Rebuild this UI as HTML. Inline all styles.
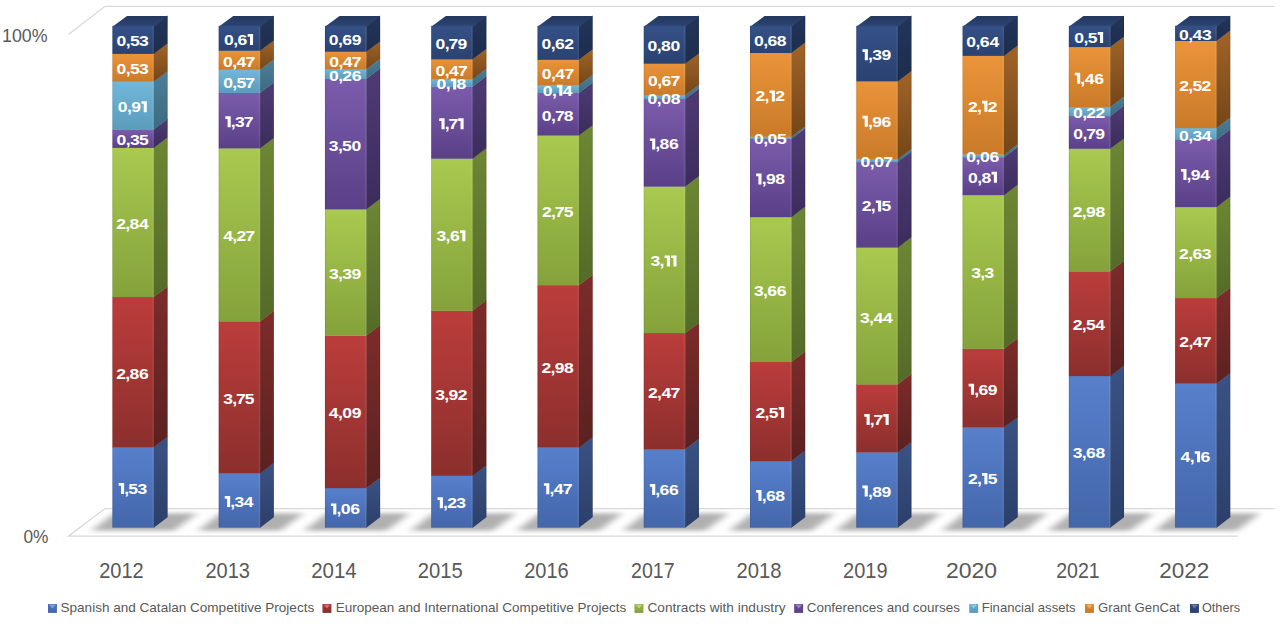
<!DOCTYPE html><html><head><meta charset="utf-8"><title>chart</title>
<style>html,body{margin:0;padding:0;background:#fff;}body{width:1282px;height:624px;overflow:hidden;}svg{display:block;font-family:"Liberation Sans",sans-serif;}</style></head><body>
<svg width="1282" height="624" viewBox="0 0 1282 624">
<defs>
<linearGradient id="f0" x1="0" y1="0" x2="0" y2="1"><stop offset="0" stop-color="#5780cc"/><stop offset="1" stop-color="#4466aa"/></linearGradient>
<linearGradient id="s0" x1="0" y1="0" x2="0" y2="1"><stop offset="0" stop-color="#3a5284"/><stop offset="1" stop-color="#2c3f6b"/></linearGradient>
<linearGradient id="f1" x1="0" y1="0" x2="0" y2="1"><stop offset="0" stop-color="#bb3d3b"/><stop offset="1" stop-color="#8b2f2d"/></linearGradient>
<linearGradient id="s1" x1="0" y1="0" x2="0" y2="1"><stop offset="0" stop-color="#7d2c2a"/><stop offset="1" stop-color="#5a2120"/></linearGradient>
<linearGradient id="f2" x1="0" y1="0" x2="0" y2="1"><stop offset="0" stop-color="#a9c950"/><stop offset="1" stop-color="#84a23a"/></linearGradient>
<linearGradient id="s2" x1="0" y1="0" x2="0" y2="1"><stop offset="0" stop-color="#6d8734"/><stop offset="1" stop-color="#546a28"/></linearGradient>
<linearGradient id="f3" x1="0" y1="0" x2="0" y2="1"><stop offset="0" stop-color="#7b5cac"/><stop offset="1" stop-color="#5a4087"/></linearGradient>
<linearGradient id="s3" x1="0" y1="0" x2="0" y2="1"><stop offset="0" stop-color="#4e3b74"/><stop offset="1" stop-color="#3c2c5c"/></linearGradient>
<linearGradient id="f4" x1="0" y1="0" x2="0" y2="1"><stop offset="0" stop-color="#72b7da"/><stop offset="1" stop-color="#5a9cbc"/></linearGradient>
<linearGradient id="s4" x1="0" y1="0" x2="0" y2="1"><stop offset="0" stop-color="#4c8099"/><stop offset="1" stop-color="#3d6a80"/></linearGradient>
<linearGradient id="f5" x1="0" y1="0" x2="0" y2="1"><stop offset="0" stop-color="#ea943a"/><stop offset="1" stop-color="#ca7a28"/></linearGradient>
<linearGradient id="s5" x1="0" y1="0" x2="0" y2="1"><stop offset="0" stop-color="#a06428"/><stop offset="1" stop-color="#744618"/></linearGradient>
<linearGradient id="f6" x1="0" y1="0" x2="0" y2="1"><stop offset="0" stop-color="#355188"/><stop offset="1" stop-color="#2a4270"/></linearGradient>
<linearGradient id="s6" x1="0" y1="0" x2="0" y2="1"><stop offset="0" stop-color="#22355a"/><stop offset="1" stop-color="#1d2d4d"/></linearGradient>
<filter id="bl" x="-50%" y="-100%" width="200%" height="300%"><feGaussianBlur stdDeviation="4.5 2.2"/></filter>
<linearGradient id="tp" x1="0" y1="0" x2="0" y2="1"><stop offset="0" stop-color="#24395f"/><stop offset="0.8" stop-color="#2a4270"/><stop offset="1" stop-color="#32507f"/></linearGradient>
</defs>
<rect width="1282" height="624" fill="#fff"/>
<g fill="none" stroke="#d9d9d9" stroke-width="1.3">
<path d="M68.5 34.5 L105 6.3 L1274.5 6.3"/>
<path d="M1274.5 508.6 L105 508.6 L68.5 536.2 L1238 536.2"/>
</g>
<g filter="url(#bl)" fill="#000" fill-opacity="0.31">
<polygon points="91.4,530.8 174.2,530.8 197.1,513.2 114.3,513.2"/>
<polygon points="197.7,530.8 280.5,530.8 303.4,513.2 220.6,513.2"/>
<polygon points="303.9,530.8 386.7,530.8 409.6,513.2 326.8,513.2"/>
<polygon points="410.2,530.8 493.0,530.8 515.9,513.2 433.1,513.2"/>
<polygon points="516.5,530.8 599.3,530.8 622.2,513.2 539.4,513.2"/>
<polygon points="622.8,530.8 705.5,530.8 728.4,513.2 645.6,513.2"/>
<polygon points="729.0,530.8 811.8,530.8 834.7,513.2 751.9,513.2"/>
<polygon points="835.3,530.8 918.1,530.8 941.0,513.2 858.2,513.2"/>
<polygon points="941.6,530.8 1024.4,530.8 1047.2,513.2 964.4,513.2"/>
<polygon points="1047.8,530.8 1130.6,530.8 1153.5,513.2 1070.7,513.2"/>
<polygon points="1154.1,530.8 1236.9,530.8 1259.8,513.2 1177.0,513.2"/>
</g>
<rect x="112.40" y="447.04" width="41.80" height="80.66" fill="url(#f0)"/>
<polygon points="153.80,447.04 167.60,436.64 167.60,517.30 153.80,527.70" fill="url(#s0)"/>
<rect x="112.40" y="296.82" width="41.80" height="150.52" fill="url(#f1)"/>
<polygon points="153.80,296.82 167.60,286.42 167.60,436.94 153.80,447.34" fill="url(#s1)"/>
<rect x="112.40" y="147.65" width="41.80" height="149.47" fill="url(#f2)"/>
<polygon points="153.80,147.65 167.60,137.25 167.60,286.72 153.80,297.12" fill="url(#s2)"/>
<rect x="112.40" y="129.27" width="41.80" height="18.68" fill="url(#f3)"/>
<polygon points="153.80,129.27 167.60,118.87 167.60,137.55 153.80,147.95" fill="url(#s3)"/>
<rect x="112.40" y="81.47" width="41.80" height="48.10" fill="url(#f4)"/>
<polygon points="153.80,81.47 167.60,71.07 167.60,119.17 153.80,129.57" fill="url(#s4)"/>
<rect x="112.40" y="53.64" width="41.80" height="28.14" fill="url(#f5)"/>
<polygon points="153.80,53.64 167.60,43.24 167.60,71.37 153.80,81.77" fill="url(#s5)"/>
<rect x="112.40" y="25.80" width="41.80" height="28.14" fill="url(#f6)"/>
<polygon points="153.80,25.80 167.60,15.40 167.60,43.54 153.80,53.94" fill="url(#s6)"/>
<rect x="152.30" y="26.80" width="1.6" height="500.60" fill="#fff" opacity="0.07"/>
<rect x="112.40" y="26.80" width="0.8" height="500.60" fill="#000" opacity="0.10"/>
<rect x="166.80" y="16.40" width="0.8" height="500.60" fill="#000" opacity="0.10"/>
<polygon points="112.40,26.80 154.20,26.80 167.60,16.00 127.00,16.00" fill="url(#tp)"/>
<g fill="#fff" font-weight="bold" font-size="15.4">
<text transform="scale(1.140,1)" y="494.0" x="108.96 112.60 120.67">,53</text>
<path d="M118.70 482.99 H124.10 V494.02 H121.00 V485.69 H118.70 Z"/>
<text transform="scale(1.140,1)" y="378.7" x="102.03 109.96 113.70 121.95">2,86</text>
<text transform="scale(1.140,1)" y="229.0" x="101.95 109.88 113.61 121.95">2,84</text>
<text transform="scale(1.140,1)" y="145.3" x="102.21 110.32 113.96 122.03">0,35</text>
<text transform="scale(1.140,1)" y="112.2" x="103.31 111.41 115.15">0,9</text>
<path d="M141.40 101.15 H146.80 V112.17 H143.70 V103.85 H141.40 Z"/>
<text transform="scale(1.140,1)" y="74.4" x="102.21 110.32 113.96 122.03">0,53</text>
<text transform="scale(1.140,1)" y="46.5" x="102.21 110.32 113.96 122.03">0,53</text>
</g>
<rect x="218.67" y="473.11" width="41.80" height="54.59" fill="url(#f0)"/>
<polygon points="260.07,473.11 273.87,462.71 273.87,517.30 260.07,527.70" fill="url(#s0)"/>
<rect x="218.67" y="321.17" width="41.80" height="152.24" fill="url(#f1)"/>
<polygon points="260.07,321.17 273.87,310.77 273.87,463.01 260.07,473.41" fill="url(#s1)"/>
<rect x="218.67" y="148.16" width="41.80" height="173.31" fill="url(#f2)"/>
<polygon points="260.07,148.16 273.87,137.76 273.87,311.07 260.07,321.47" fill="url(#s2)"/>
<rect x="218.67" y="92.65" width="41.80" height="55.81" fill="url(#f3)"/>
<polygon points="260.07,92.65 273.87,82.25 273.87,138.06 260.07,148.46" fill="url(#s3)"/>
<rect x="218.67" y="69.56" width="41.80" height="23.39" fill="url(#f4)"/>
<polygon points="260.07,69.56 273.87,59.16 273.87,82.55 260.07,92.95" fill="url(#s4)"/>
<rect x="218.67" y="50.52" width="41.80" height="19.34" fill="url(#f5)"/>
<polygon points="260.07,50.52 273.87,40.12 273.87,59.46 260.07,69.86" fill="url(#s5)"/>
<rect x="218.67" y="25.80" width="41.80" height="25.02" fill="url(#f6)"/>
<polygon points="260.07,25.80 273.87,15.40 273.87,40.42 260.07,50.82" fill="url(#s6)"/>
<rect x="258.57" y="26.80" width="1.6" height="500.60" fill="#fff" opacity="0.07"/>
<rect x="218.67" y="26.80" width="0.8" height="500.60" fill="#000" opacity="0.10"/>
<rect x="273.07" y="16.40" width="0.8" height="500.60" fill="#000" opacity="0.10"/>
<polygon points="218.67,26.80 260.47,26.80 273.87,16.00 233.27,16.00" fill="url(#tp)"/>
<g fill="#fff" font-weight="bold" font-size="15.4">
<text transform="scale(1.140,1)" y="507.1" x="202.00 205.65 213.89">,34</text>
<path d="M224.77 496.03 H230.17 V507.05 H227.07 V498.73 H224.77 Z"/>
<text transform="scale(1.140,1)" y="403.9" x="195.74 203.67 207.01 214.77">3,75</text>
<text transform="scale(1.140,1)" y="241.5" x="195.74 203.84 207.49 215.25">4,27</text>
<text transform="scale(1.140,1)" y="127.2" x="202.48 206.13 213.89">,37</text>
<path d="M225.32 116.18 H230.72 V127.21 H227.62 V118.88 H225.32 Z"/>
<text transform="scale(1.140,1)" y="87.9" x="195.74 203.84 207.49 215.25">0,57</text>
<text transform="scale(1.140,1)" y="66.8" x="195.56 203.67 207.49 215.43">0,47</text>
<text transform="scale(1.140,1)" y="45.0" x="196.53 204.63 208.37">0,6</text>
<path d="M247.67 33.93 H253.07 V44.96 H249.97 V36.63 H247.67 Z"/>
</g>
<rect x="324.94" y="487.90" width="41.80" height="39.80" fill="url(#f0)"/>
<polygon points="366.34,487.90 380.14,477.50 380.14,517.30 366.34,527.70" fill="url(#s0)"/>
<rect x="324.94" y="335.48" width="41.80" height="152.72" fill="url(#f1)"/>
<polygon points="366.34,335.48 380.14,325.08 380.14,477.80 366.34,488.20" fill="url(#s1)"/>
<rect x="324.94" y="209.15" width="41.80" height="126.63" fill="url(#f2)"/>
<polygon points="366.34,209.15 380.14,198.75 380.14,325.38 366.34,335.78" fill="url(#s2)"/>
<rect x="324.94" y="78.72" width="41.80" height="130.73" fill="url(#f3)"/>
<polygon points="366.34,78.72 380.14,68.32 380.14,199.05 366.34,209.45" fill="url(#s3)"/>
<rect x="324.94" y="69.03" width="41.80" height="9.99" fill="url(#f4)"/>
<polygon points="366.34,69.03 380.14,58.63 380.14,68.62 366.34,79.02" fill="url(#s4)"/>
<rect x="324.94" y="51.51" width="41.80" height="17.82" fill="url(#f5)"/>
<polygon points="366.34,51.51 380.14,41.11 380.14,58.93 366.34,69.33" fill="url(#s5)"/>
<rect x="324.94" y="25.80" width="41.80" height="26.01" fill="url(#f6)"/>
<polygon points="366.34,25.80 380.14,15.40 380.14,41.41 366.34,51.81" fill="url(#s6)"/>
<rect x="364.84" y="26.80" width="1.6" height="500.60" fill="#fff" opacity="0.07"/>
<rect x="324.94" y="26.80" width="0.8" height="500.60" fill="#000" opacity="0.10"/>
<rect x="379.34" y="16.40" width="0.8" height="500.60" fill="#000" opacity="0.10"/>
<polygon points="324.94,26.80 366.74,26.80 380.14,16.00 339.54,16.00" fill="url(#tp)"/>
<g fill="#fff" font-weight="bold" font-size="15.4">
<text transform="scale(1.140,1)" y="514.4" x="295.13 298.96 307.29">,06</text>
<path d="M330.94 503.42 H336.34 V514.45 H333.24 V506.12 H330.94 Z"/>
<text transform="scale(1.140,1)" y="418.5" x="288.39 296.49 300.32 308.65">4,09</text>
<text transform="scale(1.140,1)" y="279.1" x="288.56 296.49 300.14 308.30">3,39</text>
<text transform="scale(1.140,1)" y="150.7" x="288.47 296.40 300.05 308.30">3,50</text>
<text transform="scale(1.140,1)" y="80.7" x="288.56 296.67 300.32 308.47">0,26</text>
<text transform="scale(1.140,1)" y="67.1" x="288.78 296.89 300.71 308.65">0,47</text>
<text transform="scale(1.140,1)" y="45.5" x="288.47 296.58 300.32 308.56">0,69</text>
</g>
<rect x="431.21" y="475.60" width="41.80" height="52.10" fill="url(#f0)"/>
<polygon points="472.61,475.60 486.41,465.20 486.41,517.30 472.61,527.70" fill="url(#s0)"/>
<rect x="431.21" y="310.50" width="41.80" height="165.39" fill="url(#f1)"/>
<polygon points="472.61,310.50 486.41,300.10 486.41,465.50 472.61,475.90" fill="url(#s1)"/>
<rect x="431.21" y="158.46" width="41.80" height="152.34" fill="url(#f2)"/>
<polygon points="472.61,158.46 486.41,148.06 486.41,300.40 472.61,310.80" fill="url(#s2)"/>
<rect x="431.21" y="86.45" width="41.80" height="72.32" fill="url(#f3)"/>
<polygon points="472.61,86.45 486.41,76.05 486.41,148.36 472.61,158.76" fill="url(#s3)"/>
<rect x="431.21" y="78.87" width="41.80" height="7.88" fill="url(#f4)"/>
<polygon points="472.61,78.87 486.41,68.47 486.41,76.35 472.61,86.75" fill="url(#s4)"/>
<rect x="431.21" y="59.07" width="41.80" height="20.09" fill="url(#f5)"/>
<polygon points="472.61,59.07 486.41,48.67 486.41,68.77 472.61,79.17" fill="url(#s5)"/>
<rect x="431.21" y="25.80" width="41.80" height="33.57" fill="url(#f6)"/>
<polygon points="472.61,25.80 486.41,15.40 486.41,48.97 472.61,59.37" fill="url(#s6)"/>
<rect x="471.11" y="26.80" width="1.6" height="500.60" fill="#fff" opacity="0.07"/>
<rect x="431.21" y="26.80" width="0.8" height="500.60" fill="#000" opacity="0.10"/>
<rect x="485.61" y="16.40" width="0.8" height="500.60" fill="#000" opacity="0.10"/>
<polygon points="431.21,26.80 473.01,26.80 486.41,16.00 445.81,16.00" fill="url(#tp)"/>
<g fill="#fff" font-weight="bold" font-size="15.4">
<text transform="scale(1.140,1)" y="508.3" x="388.61 392.26 400.33">,23</text>
<path d="M437.51 497.27 H442.91 V508.30 H439.81 V499.97 H437.51 Z"/>
<text transform="scale(1.140,1)" y="399.9" x="381.78 389.71 393.45 401.60">3,92</text>
<text transform="scale(1.140,1)" y="241.3" x="382.96 390.89 394.63">3,6</text>
<path d="M460.01 230.26 H465.41 V241.28 H462.31 V232.96 H460.01 Z"/>
<text transform="scale(1.140,1)" y="129.3" x="390.11 393.45">,7</text>
<path d="M439.21 118.23 H444.61 V129.26 H441.51 V120.93 H439.21 Z"/>
<path d="M458.21 118.23 H463.61 V129.26 H460.51 V120.93 H458.21 Z"/>
<text transform="scale(1.140,1)" y="89.5" x="382.96 391.07 400.51">0,8</text>
<path d="M450.81 78.43 H456.21 V89.46 H453.11 V81.13 H450.81 Z"/>
<text transform="scale(1.140,1)" y="75.8" x="382.00 390.11 393.93 401.87">0,47</text>
<text transform="scale(1.140,1)" y="49.2" x="382.09 390.19 393.53 401.39">0,79</text>
</g>
<rect x="537.48" y="447.34" width="41.80" height="80.36" fill="url(#f0)"/>
<polygon points="578.88,447.34 592.68,436.94 592.68,517.30 578.88,527.70" fill="url(#s0)"/>
<rect x="537.48" y="285.04" width="41.80" height="162.60" fill="url(#f1)"/>
<polygon points="578.88,285.04 592.68,274.64 592.68,437.24 578.88,447.64" fill="url(#s1)"/>
<rect x="537.48" y="135.27" width="41.80" height="150.07" fill="url(#f2)"/>
<polygon points="578.88,135.27 592.68,124.87 592.68,274.94 578.88,285.34" fill="url(#s2)"/>
<rect x="537.48" y="92.79" width="41.80" height="42.78" fill="url(#f3)"/>
<polygon points="578.88,92.79 592.68,82.39 592.68,125.17 578.88,135.57" fill="url(#s3)"/>
<rect x="537.48" y="85.16" width="41.80" height="7.92" fill="url(#f4)"/>
<polygon points="578.88,85.16 592.68,74.76 592.68,82.69 578.88,93.09" fill="url(#s4)"/>
<rect x="537.48" y="59.57" width="41.80" height="25.90" fill="url(#f5)"/>
<polygon points="578.88,59.57 592.68,49.17 592.68,75.06 578.88,85.46" fill="url(#s5)"/>
<rect x="537.48" y="25.80" width="41.80" height="34.07" fill="url(#f6)"/>
<polygon points="578.88,25.80 592.68,15.40 592.68,49.47 578.88,59.87" fill="url(#s6)"/>
<rect x="577.38" y="26.80" width="1.6" height="500.60" fill="#fff" opacity="0.07"/>
<rect x="537.48" y="26.80" width="0.8" height="500.60" fill="#000" opacity="0.10"/>
<rect x="591.88" y="16.40" width="0.8" height="500.60" fill="#000" opacity="0.10"/>
<polygon points="537.48,26.80 579.28,26.80 592.68,16.00 552.08,16.00" fill="url(#tp)"/>
<g fill="#fff" font-weight="bold" font-size="15.4">
<text transform="scale(1.140,1)" y="494.2" x="481.96 485.79 493.73">,47</text>
<path d="M543.93 483.14 H549.33 V494.17 H546.23 V485.84 H543.93 Z"/>
<text transform="scale(1.140,1)" y="373.0" x="474.91 482.84 486.58 494.82">2,98</text>
<text transform="scale(1.140,1)" y="217.0" x="475.39 483.32 486.67 494.43">2,75</text>
<text transform="scale(1.140,1)" y="120.8" x="475.31 483.41 486.75 494.60">0,78</text>
<text transform="scale(1.140,1)" y="95.8" x="476.10 484.20 493.73">0,4</text>
<path d="M556.98 84.75 H562.38 V95.78 H559.28 V87.45 H556.98 Z"/>
<text transform="scale(1.140,1)" y="79.2" x="475.22 483.32 487.15 495.09">0,47</text>
<text transform="scale(1.140,1)" y="49.5" x="475.00 483.11 486.84 495.00">0,62</text>
</g>
<rect x="643.75" y="449.22" width="41.80" height="78.48" fill="url(#f0)"/>
<polygon points="685.15,449.22 698.95,438.82 698.95,517.30 685.15,527.70" fill="url(#s0)"/>
<rect x="643.75" y="332.88" width="41.80" height="116.63" fill="url(#f1)"/>
<polygon points="685.15,332.88 698.95,322.48 698.95,439.12 685.15,449.52" fill="url(#s1)"/>
<rect x="643.75" y="186.41" width="41.80" height="146.78" fill="url(#f2)"/>
<polygon points="685.15,186.41 698.95,176.01 698.95,322.78 685.15,333.18" fill="url(#s2)"/>
<rect x="643.75" y="98.80" width="41.80" height="87.90" fill="url(#f3)"/>
<polygon points="685.15,98.80 698.95,88.40 698.95,176.31 685.15,186.71" fill="url(#s3)"/>
<rect x="643.75" y="95.03" width="41.80" height="4.07" fill="url(#f4)"/>
<polygon points="685.15,95.03 698.95,84.63 698.95,88.70 685.15,99.10" fill="url(#s4)"/>
<rect x="643.75" y="63.48" width="41.80" height="31.86" fill="url(#f5)"/>
<polygon points="685.15,63.48 698.95,53.08 698.95,84.93 685.15,95.33" fill="url(#s5)"/>
<rect x="643.75" y="25.80" width="41.80" height="37.98" fill="url(#f6)"/>
<polygon points="685.15,25.80 698.95,15.40 698.95,53.38 685.15,63.78" fill="url(#s6)"/>
<rect x="683.65" y="26.80" width="1.6" height="500.60" fill="#fff" opacity="0.07"/>
<rect x="643.75" y="26.80" width="0.8" height="500.60" fill="#000" opacity="0.10"/>
<rect x="698.15" y="16.40" width="0.8" height="500.60" fill="#000" opacity="0.10"/>
<polygon points="643.75,26.80 685.55,26.80 698.95,16.00 658.35,16.00" fill="url(#tp)"/>
<g fill="#fff" font-weight="bold" font-size="15.4">
<text transform="scale(1.140,1)" y="495.1" x="574.88 578.61 586.86">,66</text>
<path d="M649.85 484.08 H655.25 V495.11 H652.15 V486.78 H649.85 Z"/>
<text transform="scale(1.140,1)" y="397.8" x="568.44 576.37 580.19 588.13">2,47</text>
<text transform="scale(1.140,1)" y="266.4" x="570.67 578.61">3,</text>
<path d="M664.60 255.42 H670.00 V266.44 H666.90 V258.12 H664.60 Z"/>
<path d="M671.10 255.42 H676.50 V266.44 H673.40 V258.12 H671.10 Z"/>
<text transform="scale(1.140,1)" y="149.4" x="574.88 578.61 586.86">,86</text>
<path d="M649.85 138.38 H655.25 V149.40 H652.15 V141.08 H649.85 Z"/>
<text transform="scale(1.140,1)" y="103.7" x="568.04 576.15 579.97 588.31">0,08</text>
<text transform="scale(1.140,1)" y="86.1" x="568.53 576.63 580.37 588.22">0,67</text>
<text transform="scale(1.140,1)" y="51.4" x="568.04 576.15 579.89 588.22">0,80</text>
</g>
<rect x="750.02" y="460.94" width="41.80" height="66.76" fill="url(#f0)"/>
<polygon points="791.42,460.94 805.22,450.54 805.22,517.30 791.42,527.70" fill="url(#s0)"/>
<rect x="750.02" y="361.65" width="41.80" height="99.59" fill="url(#f1)"/>
<polygon points="791.42,361.65 805.22,351.25 805.22,450.84 791.42,461.24" fill="url(#s1)"/>
<rect x="750.02" y="216.87" width="41.80" height="145.08" fill="url(#f2)"/>
<polygon points="791.42,216.87 805.22,206.47 805.22,351.55 791.42,361.95" fill="url(#s2)"/>
<rect x="750.02" y="138.54" width="41.80" height="78.63" fill="url(#f3)"/>
<polygon points="791.42,138.54 805.22,128.14 805.22,206.77 791.42,217.17" fill="url(#s3)"/>
<rect x="750.02" y="136.56" width="41.80" height="2.28" fill="url(#f4)"/>
<polygon points="791.42,136.56 805.22,126.16 805.22,128.44 791.42,138.84" fill="url(#s4)"/>
<rect x="750.02" y="52.70" width="41.80" height="84.16" fill="url(#f5)"/>
<polygon points="791.42,52.70 805.22,42.30 805.22,126.46 791.42,136.86" fill="url(#s5)"/>
<rect x="750.02" y="25.80" width="41.80" height="27.20" fill="url(#f6)"/>
<polygon points="791.42,25.80 805.22,15.40 805.22,42.60 791.42,53.00" fill="url(#s6)"/>
<rect x="789.92" y="26.80" width="1.6" height="500.60" fill="#fff" opacity="0.07"/>
<rect x="750.02" y="26.80" width="0.8" height="500.60" fill="#000" opacity="0.10"/>
<rect x="804.42" y="16.40" width="0.8" height="500.60" fill="#000" opacity="0.10"/>
<polygon points="750.02,26.80 791.82,26.80 805.22,16.00 764.62,16.00" fill="url(#tp)"/>
<g fill="#fff" font-weight="bold" font-size="15.4">
<text transform="scale(1.140,1)" y="501.0" x="668.10 671.83 680.08">,68</text>
<path d="M756.12 489.94 H761.52 V500.97 H758.42 V492.64 H756.12 Z"/>
<text transform="scale(1.140,1)" y="418.1" x="662.71 670.64 674.29">2,5</text>
<path d="M778.72 407.07 H784.12 V418.10 H781.02 V409.77 H778.72 Z"/>
<text transform="scale(1.140,1)" y="296.1" x="661.35 669.28 673.02 681.26">3,66</text>
<text transform="scale(1.140,1)" y="184.5" x="668.10 671.83 680.08">,98</text>
<path d="M756.12 173.48 H761.52 V184.50 H758.42 V176.18 H756.12 Z"/>
<text transform="scale(1.140,1)" y="144.4" x="661.35 669.46 673.28 681.53">0,05</text>
<text transform="scale(1.140,1)" y="101.4" x="662.71 670.64 679.99">2,2</text>
<path d="M769.52 90.41 H774.92 V101.43 H771.82 V93.11 H769.52 Z"/>
<text transform="scale(1.140,1)" y="46.0" x="661.35 669.46 673.19 681.44">0,68</text>
</g>
<rect x="856.29" y="452.22" width="41.80" height="75.48" fill="url(#f0)"/>
<polygon points="897.69,452.22 911.49,441.82 911.49,517.30 897.69,527.70" fill="url(#s0)"/>
<rect x="856.29" y="384.20" width="41.80" height="68.32" fill="url(#f1)"/>
<polygon points="897.69,384.20 911.49,373.80 911.49,442.12 897.69,452.52" fill="url(#s1)"/>
<rect x="856.29" y="247.36" width="41.80" height="137.14" fill="url(#f2)"/>
<polygon points="897.69,247.36 911.49,236.96 911.49,374.10 897.69,384.50" fill="url(#s2)"/>
<rect x="856.29" y="161.84" width="41.80" height="85.82" fill="url(#f3)"/>
<polygon points="897.69,161.84 911.49,151.44 911.49,237.26 897.69,247.66" fill="url(#s3)"/>
<rect x="856.29" y="159.06" width="41.80" height="3.08" fill="url(#f4)"/>
<polygon points="897.69,159.06 911.49,148.66 911.49,151.74 897.69,162.14" fill="url(#s4)"/>
<rect x="856.29" y="81.09" width="41.80" height="78.26" fill="url(#f5)"/>
<polygon points="897.69,81.09 911.49,70.69 911.49,148.96 897.69,159.36" fill="url(#s5)"/>
<rect x="856.29" y="25.80" width="41.80" height="55.59" fill="url(#f6)"/>
<polygon points="897.69,25.80 911.49,15.40 911.49,70.99 897.69,81.39" fill="url(#s6)"/>
<rect x="896.19" y="26.80" width="1.6" height="500.60" fill="#fff" opacity="0.07"/>
<rect x="856.29" y="26.80" width="0.8" height="500.60" fill="#000" opacity="0.10"/>
<rect x="910.69" y="16.40" width="0.8" height="500.60" fill="#000" opacity="0.10"/>
<polygon points="856.29,26.80 898.09,26.80 911.49,16.00 870.89,16.00" fill="url(#tp)"/>
<g fill="#fff" font-weight="bold" font-size="15.4">
<text transform="scale(1.140,1)" y="496.6" x="761.32 765.05 773.30">,89</text>
<path d="M862.39 485.58 H867.79 V496.61 H864.69 V488.28 H862.39 Z"/>
<text transform="scale(1.140,1)" y="425.0" x="762.98 766.32">,7</text>
<path d="M864.29 413.98 H869.69 V425.01 H866.59 V416.68 H864.29 Z"/>
<path d="M883.29 413.98 H888.69 V425.01 H885.59 V416.68 H883.29 Z"/>
<text transform="scale(1.140,1)" y="322.6" x="754.39 762.32 766.15 774.57">3,44</text>
<text transform="scale(1.140,1)" y="211.4" x="755.93 763.86 773.21">2,5</text>
<path d="M875.79 200.38 H881.19 V211.40 H878.09 V203.08 H875.79 Z"/>
<text transform="scale(1.140,1)" y="167.2" x="754.88 762.98 766.81 774.75">0,07</text>
<text transform="scale(1.140,1)" y="126.9" x="761.32 765.05 773.30">,96</text>
<path d="M862.39 115.85 H867.79 V126.87 H864.69 V118.55 H862.39 Z"/>
<text transform="scale(1.140,1)" y="60.2" x="761.40 765.05 773.21">,39</text>
<path d="M862.49 49.22 H867.89 V60.25 H864.79 V51.92 H862.49 Z"/>
</g>
<rect x="962.56" y="427.27" width="41.80" height="100.43" fill="url(#f0)"/>
<polygon points="1003.96,427.27 1017.76,416.87 1017.76,517.30 1003.96,527.70" fill="url(#s0)"/>
<rect x="962.56" y="348.56" width="41.80" height="79.01" fill="url(#f1)"/>
<polygon points="1003.96,348.56 1017.76,338.16 1017.76,417.17 1003.96,427.57" fill="url(#s1)"/>
<rect x="962.56" y="194.86" width="41.80" height="153.99" fill="url(#f2)"/>
<polygon points="1003.96,194.86 1017.76,184.46 1017.76,338.46 1003.96,348.86" fill="url(#s2)"/>
<rect x="962.56" y="157.14" width="41.80" height="38.02" fill="url(#f3)"/>
<polygon points="1003.96,157.14 1017.76,146.74 1017.76,184.76 1003.96,195.16" fill="url(#s3)"/>
<rect x="962.56" y="154.34" width="41.80" height="3.09" fill="url(#f4)"/>
<polygon points="1003.96,154.34 1017.76,143.94 1017.76,147.04 1003.96,157.44" fill="url(#s4)"/>
<rect x="962.56" y="55.61" width="41.80" height="99.04" fill="url(#f5)"/>
<polygon points="1003.96,55.61 1017.76,45.21 1017.76,144.24 1003.96,154.64" fill="url(#s5)"/>
<rect x="962.56" y="25.80" width="41.80" height="30.11" fill="url(#f6)"/>
<polygon points="1003.96,25.80 1017.76,15.40 1017.76,45.51 1003.96,55.91" fill="url(#s6)"/>
<rect x="1002.46" y="26.80" width="1.6" height="500.60" fill="#fff" opacity="0.07"/>
<rect x="962.56" y="26.80" width="0.8" height="500.60" fill="#000" opacity="0.10"/>
<rect x="1016.96" y="16.40" width="0.8" height="500.60" fill="#000" opacity="0.10"/>
<polygon points="962.56,26.80 1004.36,26.80 1017.76,16.00 977.16,16.00" fill="url(#tp)"/>
<g fill="#fff" font-weight="bold" font-size="15.4">
<text transform="scale(1.140,1)" y="484.1" x="849.15 857.08 866.43">2,5</text>
<path d="M982.06 473.11 H987.46 V484.13 H984.36 V475.81 H982.06 Z"/>
<text transform="scale(1.140,1)" y="394.7" x="854.53 858.27 866.52">,69</text>
<path d="M968.66 383.69 H974.06 V394.71 H970.96 V386.39 H968.66 Z"/>
<text transform="scale(1.140,1)" y="278.5" x="852.00 859.93 863.58">3,3</text>
<text transform="scale(1.140,1)" y="182.8" x="849.06 857.17 860.90">0,8</text>
<path d="M991.56 171.77 H996.96 V182.80 H993.86 V174.47 H991.56 Z"/>
<text transform="scale(1.140,1)" y="162.5" x="847.70 855.81 859.63 867.96">0,06</text>
<text transform="scale(1.140,1)" y="111.8" x="849.15 857.08 866.43">2,2</text>
<path d="M982.06 100.75 H987.46 V111.78 H984.36 V103.45 H982.06 Z"/>
<text transform="scale(1.140,1)" y="47.5" x="847.70 855.81 859.54 867.88">0,64</text>
</g>
<rect x="1068.83" y="375.85" width="41.80" height="151.85" fill="url(#f0)"/>
<polygon points="1110.23,375.85 1124.03,365.45 1124.03,517.30 1110.23,527.70" fill="url(#s0)"/>
<rect x="1068.83" y="271.25" width="41.80" height="104.90" fill="url(#f1)"/>
<polygon points="1110.23,271.25 1124.03,260.85 1124.03,365.75 1110.23,376.15" fill="url(#s1)"/>
<rect x="1068.83" y="148.52" width="41.80" height="123.02" fill="url(#f2)"/>
<polygon points="1110.23,148.52 1124.03,138.12 1124.03,261.15 1110.23,271.55" fill="url(#s2)"/>
<rect x="1068.83" y="115.99" width="41.80" height="32.83" fill="url(#f3)"/>
<polygon points="1110.23,115.99 1124.03,105.59 1124.03,138.42 1110.23,148.82" fill="url(#s3)"/>
<rect x="1068.83" y="106.93" width="41.80" height="9.36" fill="url(#f4)"/>
<polygon points="1110.23,106.93 1124.03,96.53 1124.03,105.89 1110.23,116.29" fill="url(#s4)"/>
<rect x="1068.83" y="46.80" width="41.80" height="60.43" fill="url(#f5)"/>
<polygon points="1110.23,46.80 1124.03,36.40 1124.03,96.83 1110.23,107.23" fill="url(#s5)"/>
<rect x="1068.83" y="25.80" width="41.80" height="21.30" fill="url(#f6)"/>
<polygon points="1110.23,25.80 1124.03,15.40 1124.03,36.70 1110.23,47.10" fill="url(#s6)"/>
<rect x="1108.73" y="26.80" width="1.6" height="500.60" fill="#fff" opacity="0.07"/>
<rect x="1068.83" y="26.80" width="0.8" height="500.60" fill="#000" opacity="0.10"/>
<rect x="1123.23" y="16.40" width="0.8" height="500.60" fill="#000" opacity="0.10"/>
<polygon points="1068.83,26.80 1110.63,26.80 1124.03,16.00 1083.43,16.00" fill="url(#tp)"/>
<g fill="#fff" font-weight="bold" font-size="15.4">
<text transform="scale(1.140,1)" y="458.4" x="941.01 948.94 952.67 960.92">3,68</text>
<text transform="scale(1.140,1)" y="330.3" x="941.01 948.94 952.59 960.83">2,54</text>
<text transform="scale(1.140,1)" y="216.7" x="941.01 948.94 952.67 960.92">2,98</text>
<text transform="scale(1.140,1)" y="139.1" x="941.40 949.51 952.85 960.70">0,79</text>
<text transform="scale(1.140,1)" y="118.3" x="941.18 949.29 952.94 961.01">0,22</text>
<text transform="scale(1.140,1)" y="83.7" x="947.67 951.49 959.82">,46</text>
<path d="M1074.83 72.64 H1080.23 V83.67 H1077.13 V75.34 H1074.83 Z"/>
<text transform="scale(1.140,1)" y="43.1" x="942.37 950.47 954.12">0,5</text>
<path d="M1097.73 32.08 H1103.13 V43.10 H1100.03 V34.78 H1097.73 Z"/>
</g>
<rect x="1175.10" y="383.39" width="41.80" height="144.31" fill="url(#f0)"/>
<polygon points="1216.50,383.39 1230.30,372.99 1230.30,517.30 1216.50,527.70" fill="url(#s0)"/>
<rect x="1175.10" y="297.89" width="41.80" height="85.80" fill="url(#f1)"/>
<polygon points="1216.50,297.89 1230.30,287.49 1230.30,373.29 1216.50,383.69" fill="url(#s1)"/>
<rect x="1175.10" y="206.85" width="41.80" height="91.34" fill="url(#f2)"/>
<polygon points="1216.50,206.85 1230.30,196.45 1230.30,287.79 1216.50,298.19" fill="url(#s2)"/>
<rect x="1175.10" y="139.69" width="41.80" height="67.46" fill="url(#f3)"/>
<polygon points="1216.50,139.69 1230.30,129.29 1230.30,196.75 1216.50,207.15" fill="url(#s3)"/>
<rect x="1175.10" y="127.92" width="41.80" height="12.07" fill="url(#f4)"/>
<polygon points="1216.50,127.92 1230.30,117.52 1230.30,129.59 1216.50,139.99" fill="url(#s4)"/>
<rect x="1175.10" y="40.69" width="41.80" height="87.53" fill="url(#f5)"/>
<polygon points="1216.50,40.69 1230.30,30.29 1230.30,117.82 1216.50,128.22" fill="url(#s5)"/>
<rect x="1175.10" y="25.80" width="41.80" height="15.19" fill="url(#f6)"/>
<polygon points="1216.50,25.80 1230.30,15.40 1230.30,30.59 1216.50,40.99" fill="url(#s6)"/>
<rect x="1215.00" y="26.80" width="1.6" height="500.60" fill="#fff" opacity="0.07"/>
<rect x="1175.10" y="26.80" width="0.8" height="500.60" fill="#000" opacity="0.10"/>
<rect x="1229.50" y="16.40" width="0.8" height="500.60" fill="#000" opacity="0.10"/>
<polygon points="1175.10,26.80 1216.90,26.80 1230.30,16.00 1189.70,16.00" fill="url(#tp)"/>
<g fill="#fff" font-weight="bold" font-size="15.4">
<text transform="scale(1.140,1)" y="462.2" x="1035.50 1043.61 1053.04">4,6</text>
<path d="M1194.70 451.17 H1200.10 V462.20 H1197.00 V453.87 H1194.70 Z"/>
<text transform="scale(1.140,1)" y="347.4" x="1034.53 1042.46 1046.29 1054.23">2,47</text>
<text transform="scale(1.140,1)" y="259.2" x="1034.32 1042.25 1045.98 1054.14">2,63</text>
<text transform="scale(1.140,1)" y="180.1" x="1040.89 1044.62 1052.96">,94</text>
<path d="M1181.10 169.04 H1186.50 V180.07 H1183.40 V171.74 H1181.10 Z"/>
<text transform="scale(1.140,1)" y="140.6" x="1034.23 1042.33 1045.98 1054.23">0,34</text>
<text transform="scale(1.140,1)" y="91.1" x="1034.40 1042.33 1045.98 1054.05">2,52</text>
<text transform="scale(1.140,1)" y="40.0" x="1034.23 1042.33 1046.16 1054.40">0,43</text>
</g>
<g fill="#595959">
<text x="2" y="41.8" font-size="18.6" textLength="45.5" lengthAdjust="spacingAndGlyphs">100%</text>
<text x="23.5" y="543" font-size="18.6" textLength="25" lengthAdjust="spacingAndGlyphs">0%</text>
<text x="121.4" y="578" font-size="22" text-anchor="middle" textLength="44.5" lengthAdjust="spacingAndGlyphs">2012</text>
<text x="227.7" y="578" font-size="22" text-anchor="middle" textLength="44.5" lengthAdjust="spacingAndGlyphs">2013</text>
<text x="334.0" y="578" font-size="22" text-anchor="middle" textLength="45.5" lengthAdjust="spacingAndGlyphs">2014</text>
<text x="440.2" y="578" font-size="22" text-anchor="middle" textLength="45.0" lengthAdjust="spacingAndGlyphs">2015</text>
<text x="546.5" y="578" font-size="22" text-anchor="middle" textLength="44.5" lengthAdjust="spacingAndGlyphs">2016</text>
<text x="652.8" y="578" font-size="22" text-anchor="middle" textLength="43.5" lengthAdjust="spacingAndGlyphs">2017</text>
<text x="759.1" y="578" font-size="22" text-anchor="middle" textLength="45.0" lengthAdjust="spacingAndGlyphs">2018</text>
<text x="865.3" y="578" font-size="22" text-anchor="middle" textLength="44.5" lengthAdjust="spacingAndGlyphs">2019</text>
<text x="971.6" y="578" font-size="22" text-anchor="middle" textLength="51.0" lengthAdjust="spacingAndGlyphs">2020</text>
<text x="1077.9" y="578" font-size="22" text-anchor="middle" textLength="43.5" lengthAdjust="spacingAndGlyphs">2021</text>
<text x="1184.2" y="578" font-size="22" text-anchor="middle" textLength="50.0" lengthAdjust="spacingAndGlyphs">2022</text>
<rect x="48.0" y="604" width="8.9" height="8.9" fill="#4466aa"/>
<rect x="48.5" y="604.5" width="7.9" height="7.9" fill="url(#f0)" opacity="0.55"/>
<polygon points="48.9,604.6 56.0,604.6 52.5,608.6" fill="#86a3da" opacity="0.9"/>
<text x="60.5" y="612.1" font-size="13" textLength="253.7" lengthAdjust="spacingAndGlyphs">Spanish and Catalan Competitive Projects</text>
<rect x="322.5" y="604" width="8.9" height="8.9" fill="#8b2f2d"/>
<rect x="323.0" y="604.5" width="7.9" height="7.9" fill="url(#f1)" opacity="0.55"/>
<polygon points="323.4,604.6 330.5,604.6 326.9,608.6" fill="#ce7371" opacity="0.9"/>
<text x="335.7" y="612.1" font-size="13" textLength="290.5" lengthAdjust="spacingAndGlyphs">European and International Competitive Projects</text>
<rect x="634.5" y="604" width="8.9" height="8.9" fill="#84a23a"/>
<rect x="635.0" y="604.5" width="7.9" height="7.9" fill="url(#f2)" opacity="0.55"/>
<polygon points="635.4,604.6 642.5,604.6 639.0,608.6" fill="#c1d881" opacity="0.9"/>
<text x="647.5" y="612.1" font-size="13" textLength="138.0" lengthAdjust="spacingAndGlyphs">Contracts with industry</text>
<rect x="794.2" y="604" width="8.9" height="8.9" fill="#5a4087"/>
<rect x="794.7" y="604.5" width="7.9" height="7.9" fill="url(#f3)" opacity="0.55"/>
<polygon points="795.1,604.6 802.2,604.6 798.7,608.6" fill="#9f89c3" opacity="0.9"/>
<text x="806.7" y="612.1" font-size="13" textLength="153.3" lengthAdjust="spacingAndGlyphs">Conferences and courses</text>
<rect x="969.3" y="604" width="8.9" height="8.9" fill="#5a9cbc"/>
<rect x="969.8" y="604.5" width="7.9" height="7.9" fill="url(#f4)" opacity="0.55"/>
<polygon points="970.2,604.6 977.3,604.6 973.8,608.6" fill="#99cbe4" opacity="0.9"/>
<text x="981.7" y="612.1" font-size="13" textLength="94.0" lengthAdjust="spacingAndGlyphs">Financial assets</text>
<rect x="1085.0" y="604" width="8.9" height="8.9" fill="#ca7a28"/>
<rect x="1085.5" y="604.5" width="7.9" height="7.9" fill="url(#f5)" opacity="0.55"/>
<polygon points="1085.9,604.6 1093.0,604.6 1089.5,608.6" fill="#efb171" opacity="0.9"/>
<text x="1098.0" y="612.1" font-size="13" textLength="82.0" lengthAdjust="spacingAndGlyphs">Grant GenCat</text>
<rect x="1190.0" y="604" width="8.9" height="8.9" fill="#2a4270"/>
<rect x="1190.5" y="604.5" width="7.9" height="7.9" fill="url(#f6)" opacity="0.55"/>
<polygon points="1190.9,604.6 1198.0,604.6 1194.5,608.6" fill="#6d81a9" opacity="0.9"/>
<text x="1202.0" y="612.1" font-size="13" textLength="38.0" lengthAdjust="spacingAndGlyphs">Others</text>
</g>
</svg></body></html>
